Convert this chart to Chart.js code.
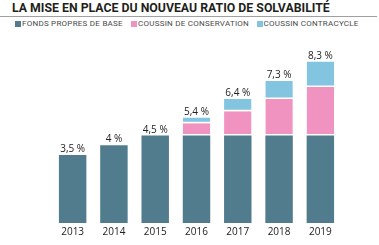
<!DOCTYPE html>
<html>
<head>
<meta charset="utf-8">
<script src="https://cdn.jsdelivr.net/npm/chart.js@4/dist/chart.umd.min.js"></script>
<style>
  body { margin: 0; background: #fff; }
  .wrap { position: relative; width: 379px; height: 245px; overflow: hidden; }
  .title {
    position: absolute; left: 12px; top: 1px;
    font: bold 12.3px Roboto, sans-serif; line-height: 15px;
    color: #231f20; white-space: nowrap;
  }
  .rule { position: absolute; left: 0; top: 16px; width: 377px; height: 1px; background: #a0a0a0; }
  .legend { position: absolute; left: 0; top: 19px; width: 379px; height: 10px; }
  .legend span {
    position: absolute; top: 0; white-space: nowrap;
    font: 8px Roboto, sans-serif; color: #4a4a4a; line-height: 10px; letter-spacing: 0.25px;
  }
  .legend i { display: inline-block; width: 6px; height: 6px; margin-right: 1px; vertical-align: -0.5px; }
  canvas { position: absolute; left: 0; top: 0; }
</style>
</head>
<body>
<div class="wrap">
  <div class="title">LA MISE EN PLACE DU NOUVEAU RATIO DE SOLVABILITÉ</div>
  <div class="rule"></div>
  <div class="legend" id="legend"></div>
  <canvas id="chart" width="379" height="245"></canvas>
</div>
<script>
const years = ['2013', '2014', '2015', '2016', '2017', '2018', '2019'];
const seriesNames = ['FONDS PROPRES DE BASE', 'COUSSIN DE CONSERVATION', 'COUSSIN CONTRACYCLE'];
const fondsPropres = [3.5, 4, 4.5, 4.5, 4.5, 4.5, 4.5];
const coussinConservation = [0, 0, 0, 0.625, 1.25, 1.875, 2.5];
const coussinContracycle = [0, 0, 0, 0.3, 0.625, 0.925, 1.3];
const totalLabels = ['3,5 %', '4 %', '4,5 %', '5,4 %', '6,4 %', '7,3 %', '8,3 %'];

const colors = ['#507c8e', '#f193c0', '#83c4e1'];
const legendX = [15, 131, 256.5];

// legende en html
const legend = document.getElementById('legend');
seriesNames.forEach((name, i) => {
  const s = document.createElement('span');
  s.style.left = legendX[i] + 'px';
  s.innerHTML = '<i style="background:' + colors[i] + '"></i>' + name;
  legend.appendChild(s);
});

// totaux au-dessus des barres
const totalsPlugin = {
  id: 'totals',
  afterDatasetsDraw(chart) {
    const ctx = chart.ctx;
    const x = chart.scales.x, y = chart.scales.y;
    ctx.save();
    ctx.font = '10px "Open Sans", sans-serif';
    ctx.fillStyle = '#222';
    ctx.textAlign = 'center';
    ctx.textBaseline = 'alphabetic';
    years.forEach((yr, i) => {
      const total = fondsPropres[i] + coussinConservation[i] + coussinContracycle[i];
      ctx.fillText(totalLabels[i], x.getPixelForValue(i), y.getPixelForValue(total) - 3);
    });
    ctx.restore();
  }
};

const sep = { top: 0, left: 0, right: 0, bottom: 1.5 };

new Chart(document.getElementById('chart'), {
  type: 'bar',
  data: {
    labels: years,
    datasets: [
      { label: seriesNames[0], data: fondsPropres, backgroundColor: colors[0] },
      { label: seriesNames[1], data: coussinConservation, backgroundColor: colors[1],
        borderColor: '#fff', borderWidth: sep, borderSkipped: false },
      { label: seriesNames[2], data: coussinContracycle, backgroundColor: colors[2],
        borderColor: '#fff', borderWidth: sep, borderSkipped: false }
    ]
  },
  options: {
    responsive: false,
    animation: false,
    devicePixelRatio: 1,
    layout: { padding: { left: 52, right: 38, top: 48, bottom: 4 } },
    datasets: { bar: { categoryPercentage: 1, barPercentage: 0.665 } },
    plugins: { legend: { display: false }, title: { display: false }, tooltip: { enabled: false } },
    scales: {
      x: {
        stacked: true,
        grid: { display: false, drawTicks: false },
        border: { display: false },
        ticks: { color: '#222', padding: 3, font: { family: 'Open Sans', size: 10 } }
      },
      y: {
        stacked: true,
        display: false,
        min: 0,
        max: 9
      }
    }
  },
  plugins: [totalsPlugin]
});
</script>
</body>
</html>
